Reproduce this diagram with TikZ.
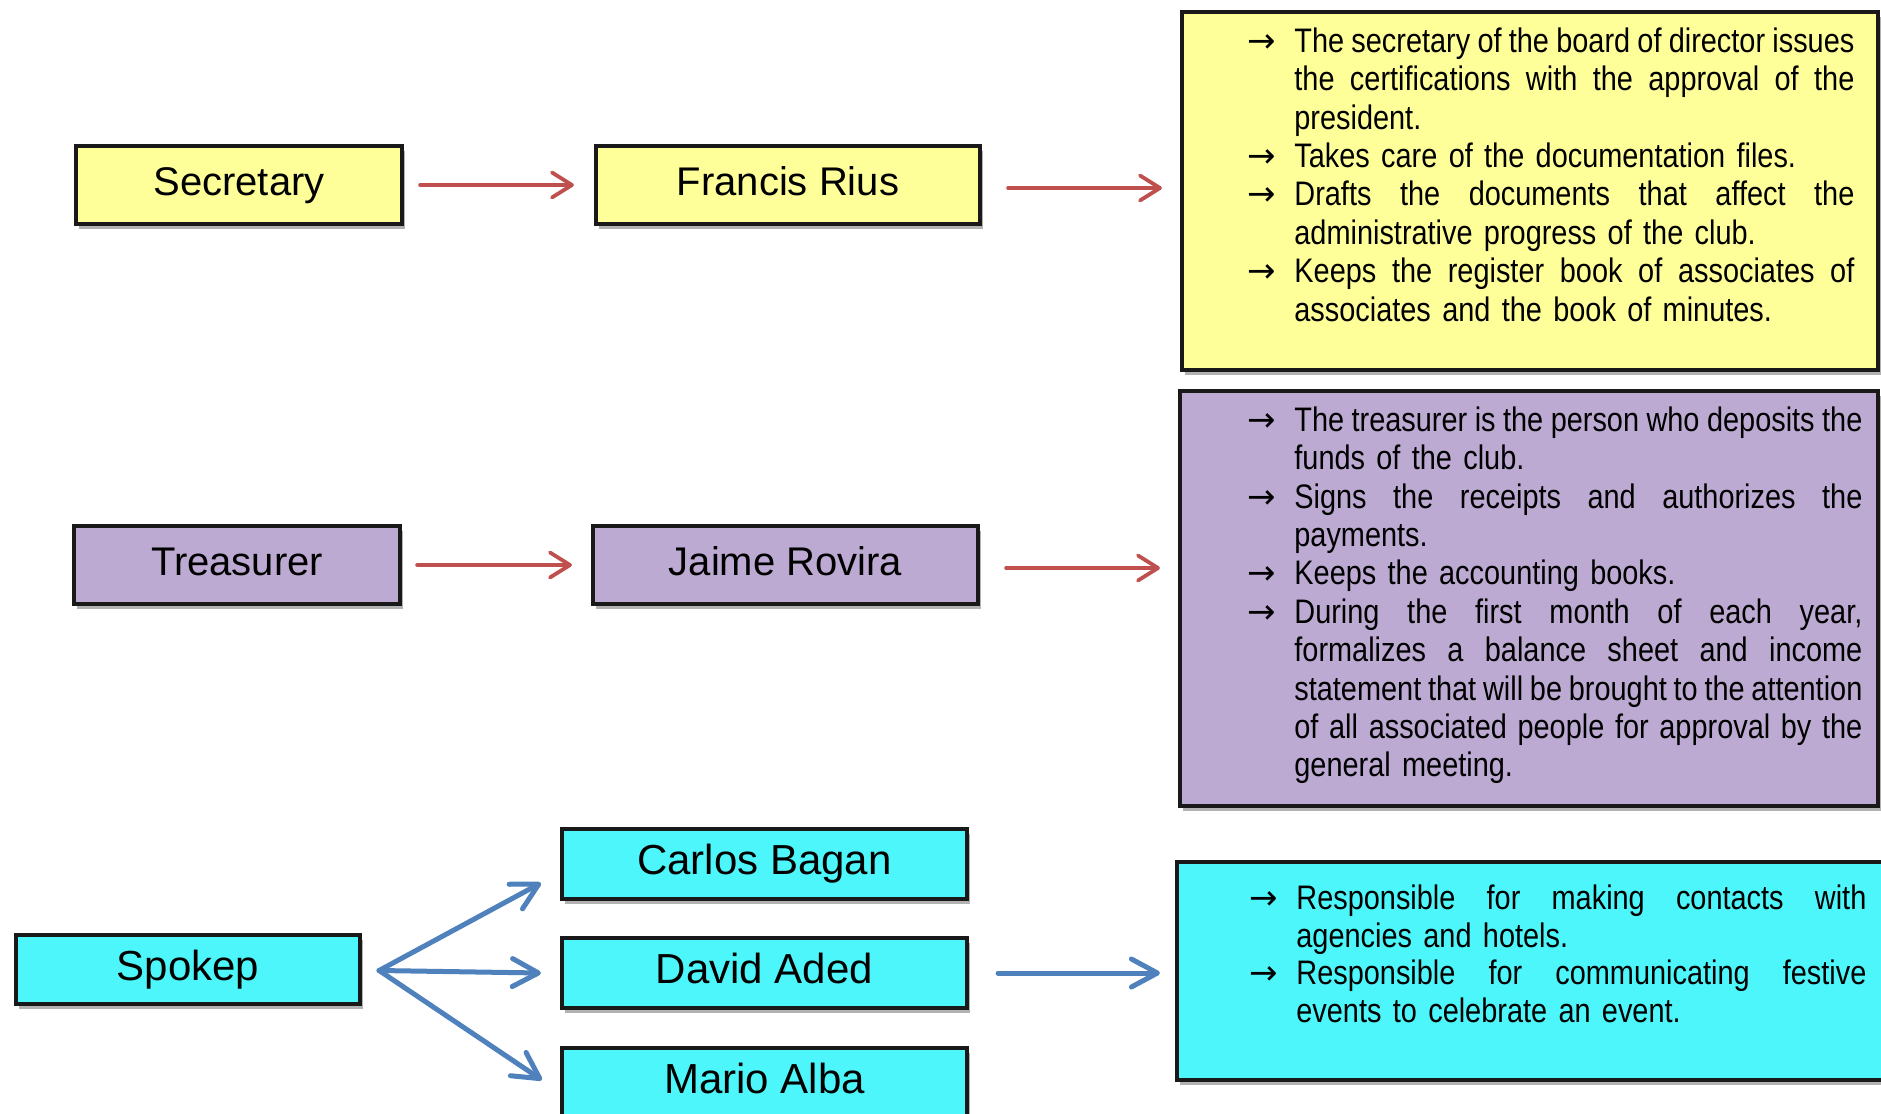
\documentclass[tikz,border=0pt]{standalone}
\usepackage{fontspec}
\setmainfont{Liberation Sans}
\newfontfamily\labelfont{Liberation Sans}
\newfontfamily\bodyfont[FakeStretch=0.85]{Liberation Sans}
\newfontfamily\arrowfont{DejaVu Sans}
\usetikzlibrary{arrows.meta,shadows}

\definecolor{boxyellow}{RGB}{255,255,153}
\definecolor{boxlilac}{RGB}{189,170,211}
\definecolor{boxcyan}{RGB}{77,246,250}
\definecolor{linkred}{RGB}{192,80,77}
\definecolor{linkblue}{RGB}{79,129,189}

% bullet arrow hung in the left margin of a text line
\newcommand\itemarrow{\leavevmode\llap{{\arrowfont\fontsize{17}{17}\selectfont →}\hspace{9pt}}}
% a line spread to the full column width \colwidth
\newcommand\fullline[1]{\leavevmode\hbox to\colwidth{\spaceskip=\fontdimen2\font plus .6em minus .16em\relax #1}}
\def\colwidth{280pt}

\tikzset{
  box/.style={draw=black!90, line width=2.1pt, inner sep=0pt,
    drop shadow={shadow xshift=1.5pt, shadow yshift=-2.5pt, opacity=0.3, fill=black}},
  namebox/.style={box, font=\labelfont\fontsize{20}{24}\selectfont,
    text height=14.6pt, text depth=4.2pt},
  bignamebox/.style={namebox, font=\labelfont\fontsize{21}{25}\selectfont,
    text height=15.3pt, text depth=4.4pt},
  textblock/.style={anchor=north west, inner sep=0pt, align=left,
    font=\bodyfont\fontsize{17}{19.2}\selectfont},
  redlink/.style={draw=linkred, line width=1.9pt, line cap=round,
    -{Straight Barb[length=10pt,width=12.5pt,round]}},
  bluelink/.style={draw=linkblue, line width=2.5pt, line cap=round,
    -{Straight Barb[length=13pt,width=14pt,round]}},
}

\begin{document}
\begin{tikzpicture}[x=0.5pt,y=-0.5pt]
\clip (0,0) rectangle (1881,1114);
\fill[white] (0,0) rectangle (1881,1114);

% ---- secretary row
\node[namebox, fill=boxyellow, minimum width=163pt, minimum height=39pt] (sec) at (239,185) {Secretary};
\node[namebox, fill=boxyellow, minimum width=192pt, minimum height=39pt] (fr) at (788,185) {Francis Rius};
\node[box, fill=boxyellow, minimum width=348pt, minimum height=179pt] (ysec) at (1530,191) {};
\def\colwidth{280pt}
\node[textblock, text width=280pt] (sectext) at (1294,25) {%
\strut\itemarrow\fullline{The secretary of the board of director issues}\\
\fullline{the certifications with the approval of the}\\
president.\\
\itemarrow Takes care of the documentation files.\\
\itemarrow\fullline{Drafts the documents that affect the}\\
administrative progress of the club.\\
\itemarrow\fullline{Keeps the register book of associates of}\\
associates and the book of minutes.};

% ---- treasurer row
\node[namebox, fill=boxlilac, minimum width=163pt, minimum height=39pt] (tre) at (237,565) {Treasurer};
\node[namebox, fill=boxlilac, minimum width=192.5pt, minimum height=39pt] (jr) at (785.5,565) {Jaime Rovira};
\node[box, fill=boxlilac, minimum width=349pt, minimum height=207.5pt] (ltre) at (1529,598.5) {};
\def\colwidth{284pt}
\node[textblock, text width=284pt] (tretext) at (1294,404) {%
\strut\itemarrow\fullline{The treasurer is the person who deposits the}\\
funds of the club.\\
\itemarrow\fullline{Signs the receipts and authorizes the}\\
payments.\\
\itemarrow Keeps the accounting books.\\
\itemarrow\fullline{During the first month of each year,}\\
\fullline{formalizes a balance sheet and income}\\
\fullline{statement that will be brought to the attention}\\
\fullline{of all associated people for approval by the}\\
general meeting.};

% ---- spokesperson row
\node[bignamebox, fill=boxcyan, minimum width=172pt, minimum height=34.5pt] (spk) at (188,969.5) {Spokep};
\node[bignamebox, fill=boxcyan, minimum width=202.5pt, minimum height=35pt] (cb) at (764.5,864) {Carlos Bagan};
\node[bignamebox, fill=boxcyan, minimum width=202.5pt, minimum height=35pt] (da) at (764.5,973) {David Aded};
\node[bignamebox, fill=boxcyan, minimum width=202.5pt, minimum height=35pt] (ma) at (764.5,1083) {Mario Alba};
\node[box, fill=boxcyan, minimum width=359pt, minimum height=109pt] (csp) at (1536,971) {};
\def\colwidth{285pt}
\node[textblock, text width=285pt, font=\bodyfont\fontsize{17}{18.8}\selectfont] (spktext) at (1296,883) {%
\strut\itemarrow\fullline{Responsible for making contacts with}\\
agencies and hotels.\\
\itemarrow\fullline{Responsible for communicating festive}\\
events to celebrate an event.};

% ---- connectors
\draw[redlink, shorten <=8pt, shorten >=10pt] (sec) -- (fr);
\draw[redlink, shorten <=13pt, shorten >=9pt] ([yshift=-1.5pt]fr.east) -- ([yshift=-1.5pt]fr.east -| ysec.west);
\draw[redlink, shorten <=7.5pt, shorten >=9.5pt] (tre) -- (jr);
\draw[redlink, shorten <=13pt, shorten >=9pt] ([yshift=-1.5pt]jr.east) -- ([yshift=-1.5pt]jr.east -| ltre.west);

\coordinate (fan) at ([xshift=8.5pt,yshift=-0.5pt]spk.east);
\draw[bluelink] (fan) -- ([xshift=-9.5pt,yshift=-9.5pt]cb.west);
\draw[bluelink] (fan) -- ([xshift=-9.5pt]da.west);
\draw[bluelink] (fan) -- ([xshift=-9pt,yshift=1.5pt]ma.west);
\draw[bluelink, shorten <=14.5pt, shorten >=7.5pt] (da.east) -- (da.east -| csp.west);
\end{tikzpicture}
\end{document}
